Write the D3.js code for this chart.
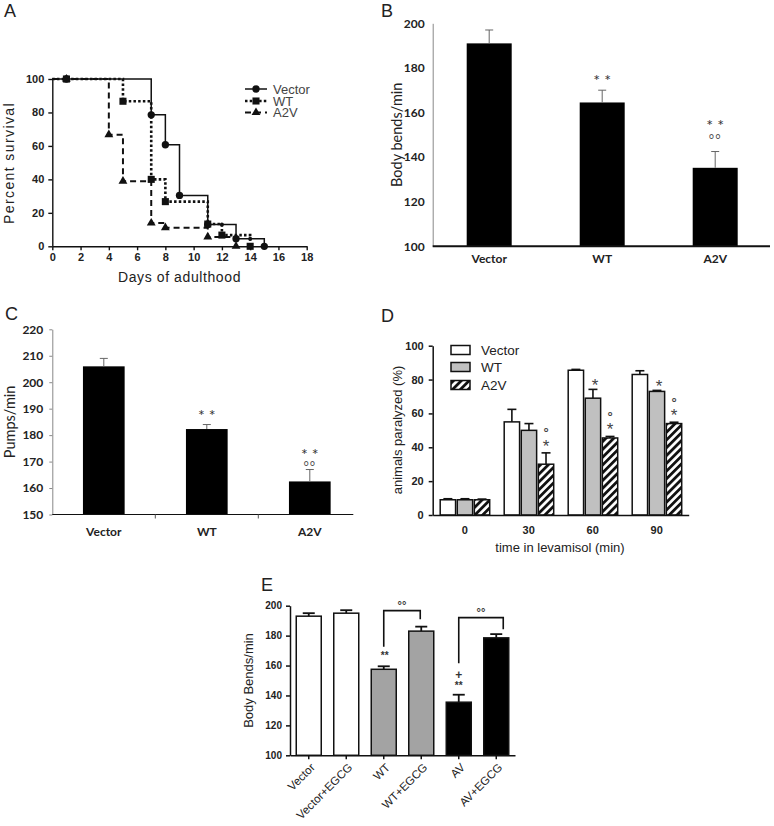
<!DOCTYPE html>
<html><head><meta charset="utf-8">
<script src="https://cdn.jsdelivr.net/npm/d3@7"></script>
<style>body{margin:0;background:#fff}</style>
</head><body><svg id="c" width="774" height="826"></svg>
<script>
// ---------------- DATA ----------------
// Panel A: survival
const survSeries = ["Vector","WT","A2V"];
const survDayTicks = [0,2,4,6,8,10,12,14,16,18];
const survPctTicks = [0,20,40,60,80,100];
const vectorSurvival = [[0,100],[7,78.6],[8,60.7],[9,30.4],[11,13.0],[13,4.5],[15,0]];
const wtSurvival = [[0,100],[5,86.7],[7,40.0],[8,26.7],[11,13.3],[12,6.7],[14,0]];
const a2vSurvival = [[0,100],[4,66.7],[5,38.9],[7,13.9],[8,11.1],[11,5.6],[13,0]];
const vectorCensored = [[12,13.0],[14,4.5]];
const startCensored = [[1,100]];

// Panel B: body bends
const bCategories = ["Vector","WT","A2V"];
const bBodyBends = [191,164.5,135.2];
const bSEM = [6,5.5,7.3];
const bStars = ["","* *","* *"];
const bRings = ["","","°°"];
const bTicks = [100,120,140,160,180,200];

// Panel C: pumps
const cCategories = ["Vector","WT","A2V"];
const cPumps = [206,182.3,162.5];
const cSEM = [3,1.7,4.5];
const cStars = ["","* *","* *"];
const cRings = ["","","°°"];
const cTicks = [150,160,170,180,190,200,210,220];

// Panel D: levamisol paralysis
const dTimes = ["0","30","60","90"];
const dSeries = ["Vector","WT","A2V"];
const dVector = [9,55,85.5,83];
const dWT = [9,50,69,73];
const dA2V = [9,30,45.5,54];
const dVectorSEM = [0.6,7.4,0.5,2.2];
const dWTSEM = [0.6,4,5.2,0.6];
const dA2VSEM = [0.4,6.7,0.9,0.8];
const dWTStars = ["","","*","*"];
const dA2VStars = ["","*","*","*"];
const dA2VRings = ["","°","°","°"];
const dTicks = [0,20,40,60,80,100];

// Panel E: EGCG
const eCategories = ["Vector","Vector+EGCG","WT","WT+EGCG","AV","AV+EGCG"];
const eBodyBends = [193,195,157.5,183,135.5,178.5];
const eSEM = [2,2,2,3,5,2.5];
const eTicks = [100,120,140,160,180,200];

// ---------------- DRAW ----------------
const svg = d3.select("#c");
svg.append("rect").attr("width",774).attr("height",826).attr("fill","#fff");
const ARIAL = "'Liberation Sans', Arial, sans-serif";
const CAL = "Lato, 'Open Sans', sans-serif";

function panelLabel(t,x,y){
  svg.append("text").attr("x",x).attr("y",y).text(t)
    .attr("font-family",ARIAL).attr("font-size",18).attr("fill","#222");
}
panelLabel("A",4,17); panelLabel("B",381,17); panelLabel("C",5,320); panelLabel("D",381,322); panelLabel("E",261,591);

// ===== Panel A =====
(function(){
  const x = d3.scaleLinear([0,18],[52.3,306.7]);
  const y = d3.scaleLinear([0,100],[246.3,79]);
  const g = svg.append("g");
  const ya = g.append("g").attr("transform",`translate(${x(0)},0)`)
    .call(d3.axisLeft(y).tickValues(survPctTicks).tickSize(4).tickSizeOuter(0).tickPadding(4));
  const xa = g.append("g").attr("transform",`translate(0,${y(0)})`)
    .call(d3.axisBottom(x).tickValues(survDayTicks).tickSize(4).tickSizeOuter(0).tickPadding(3));
  [ya,xa].forEach(a=>{
    a.selectAll("path,line").attr("stroke","#111").attr("stroke-width",1.4);
    a.selectAll("text").attr("font-family",ARIAL).attr("font-size",11).attr("font-weight","bold").attr("fill","#222");
  });
  g.append("text").attr("x",179.5).attr("y",282).attr("text-anchor","middle")
    .attr("font-family",ARIAL).attr("font-size",14).attr("letter-spacing",0.6).attr("fill","#222").text("Days of adulthood");
  g.append("text").attr("transform","translate(14,163) rotate(-90)").attr("text-anchor","middle")
    .attr("font-family",ARIAL).attr("font-size",14).attr("letter-spacing",1.4).attr("fill","#222").text("Percent survival");

  const line = d3.line().x(d=>x(d[0])).y(d=>y(d[1])).curve(d3.curveStepAfter);
  const styles = {
    "Vector":{data:vectorSurvival,dash:null,w:1.5,sym:d3.symbolCircle,size:42},
    "WT":{data:wtSurvival,dash:"2.5,2.2",w:2.6,sym:d3.symbolSquare,size:50},
    "A2V":{data:a2vSurvival,dash:"6,4",w:2,sym:d3.symbolTriangle,size:34}
  };
  ["Vector","A2V","WT"].forEach(k=>{
    const s = styles[k];
    g.append("path").attr("d",line(s.data)).attr("fill","none").attr("stroke","#111")
      .attr("stroke-width",s.w).attr("stroke-dasharray",s.dash);
  });
  ["Vector","A2V","WT"].forEach(k=>{
    const s = styles[k];
    const pts = startCensored.concat(s.data.slice(1));
    g.selectAll(null).data(pts).enter().append("path")
      .attr("d",d3.symbol().type(s.sym).size(s.size))
      .attr("transform",d=>`translate(${x(d[0])},${y(d[1])})`).attr("fill","#111");
  });
  g.selectAll(null).data(vectorCensored).enter().append("circle")
    .attr("cx",d=>x(d[0])).attr("cy",d=>y(d[1])).attr("r",2).attr("fill","#111");

  // legend
  const ly = [89,101,112.5];
  survSeries.forEach((k,i)=>{
    const s = styles[k];
    g.append("line").attr("x1",245).attr("x2",267).attr("y1",ly[i]).attr("y2",ly[i])
      .attr("stroke","#111").attr("stroke-width",s.w).attr("stroke-dasharray",s.dash);
    g.append("path").attr("d",d3.symbol().type(s.sym).size(s.size)).attr("transform",`translate(256,${ly[i]})`).attr("fill","#111");
    g.append("text").attr("x",273).attr("y",ly[i]).attr("dy","0.36em").attr("font-family",ARIAL)
      .attr("font-size",13).attr("fill","#444").text(k);
  });
})();

// ===== Excel style bar panels B and C =====
function excelPanel(o){
  const x = d3.scaleBand(o.cats,o.xr);
  const y = d3.scaleLinear(o.dom,o.yr);
  const g = svg.append("g");
  const bw = o.barW;
  o.vals.forEach((v,i)=>{
    const cx = x(o.cats[i])+x.bandwidth()/2;
    g.append("rect").attr("x",cx-bw/2).attr("width",bw).attr("y",y(v)).attr("height",y(o.dom[0])-y(v)).attr("fill","#000");
    const top = y(v+o.sem[i]);
    g.append("line").attr("x1",cx).attr("x2",cx).attr("y1",y(v)).attr("y2",top).attr("stroke","#666").attr("stroke-width",1);
    g.append("line").attr("x1",cx-4).attr("x2",cx+4).attr("y1",top).attr("y2",top).attr("stroke","#666").attr("stroke-width",1);
    const hasRing = !!o.rings[i];
    if(o.stars[i]) g.append("text").attr("x",cx).attr("y",top-(hasRing?o.starOffRing:o.starOff)).attr("text-anchor","middle")
      .attr("font-family",CAL).attr("font-size",16).attr("fill","#333").text(o.stars[i]);
    if(hasRing) g.append("text").attr("x",cx).attr("y",top-o.ringOff).attr("text-anchor","middle")
      .attr("font-family",CAL).attr("font-size",13).attr("fill","#555").attr("letter-spacing",1).text(o.rings[i]);
  });
  const ya = g.append("g").attr("transform",`translate(${o.xr[0]},0)`)
    .call(d3.axisLeft(y).tickValues(o.ticks).tickSize(o.tick).tickSizeOuter(0).tickPadding(o.pad));
  ya.selectAll("path,line").attr("stroke","#888");
  ya.selectAll("text").attr("font-family",CAL).attr("font-size",12).attr("font-weight","bold").attr("fill","#222");
  g.append("line").attr("x1",o.xr[0]).attr("x2",o.xEnd).attr("y1",y(o.dom[0])).attr("y2",y(o.dom[0]))
    .attr("stroke","#111").attr("stroke-width",o.xw);
  if(o.catTicks){
    o.cats.slice(1).forEach(c=>{
      g.append("line").attr("x1",x(c)).attr("x2",x(c)).attr("y1",y(o.dom[0])).attr("y2",y(o.dom[0])+4).attr("stroke","#555");
    });
  }
  o.cats.forEach(c=>{
    g.append("text").attr("x",x(c)+x.bandwidth()/2).attr("y",o.catY).attr("text-anchor","middle")
      .attr("font-family",CAL).attr("font-size",12).attr("font-weight","bold").attr("fill","#222").text(c);
  });
  g.append("text").attr("transform",`translate(${o.titleX},${(o.yr[0]+o.yr[1])/2}) rotate(-90)`).attr("text-anchor","middle")
    .attr("dy","0.35em").attr("font-family",CAL).attr("font-size",14.5).attr("fill","#222").text(o.title);
}
excelPanel({cats:bCategories,vals:bBodyBends,sem:bSEM,stars:bStars,rings:bRings,ticks:bTicks,
  xr:[432.7,771.7],dom:[100,200],yr:[246.3,23.3],barW:45,tick:0,pad:8,xEnd:770,xw:2,catTicks:false,
  catY:263,title:"Body bends/min",titleX:397,starOff:4.7,starOffRing:21,ringOff:7.6});
excelPanel({cats:cCategories,vals:cPumps,sem:cSEM,stars:cStars,rings:cRings,ticks:cTicks,
  xr:[52.3,361.3],dom:[150,220],yr:[514.5,329.3],barW:41.7,tick:3,pad:6,xEnd:353.3,xw:1.2,catTicks:true,
  catY:536,title:"Pumps/min",titleX:10,starOff:3.7,starOffRing:9.5,ringOff:-1});

// ===== Panel D =====
(function(){
  const x0 = d3.scaleBand(dTimes,[432.7,688.7]);
  const x1 = d3.scaleBand(dSeries,[7.5,57]).paddingInner(0.1);
  const y = d3.scaleLinear([0,100],[515,345.7]);
  const g = svg.append("g");
  const defs = svg.append("defs");
  const pat = defs.append("pattern").attr("id","hatch").attr("patternUnits","userSpaceOnUse")
    .attr("width",5.5).attr("height",5.5).attr("patternTransform","rotate(45)");
  pat.append("rect").attr("width",5.5).attr("height",5.5).attr("fill","#fff");
  pat.append("rect").attr("width",2.8).attr("height",5.5).attr("fill","#111");
  const fills = {"Vector":"#fff","WT":"#c0c0c0","A2V":"url(#hatch)"};
  const vals = {"Vector":dVector,"WT":dWT,"A2V":dA2V};
  const sems = {"Vector":dVectorSEM,"WT":dWTSEM,"A2V":dA2VSEM};
  dSeries.forEach(s=>{
    dTimes.forEach((t,i)=>{
      const bx = x0(t)+x1(s), v = vals[s][i], cx = bx+x1.bandwidth()/2;
      const top = y(v+sems[s][i]);
      g.append("line").attr("x1",cx).attr("x2",cx).attr("y1",y(v)).attr("y2",top).attr("stroke","#111").attr("stroke-width",1.6);
      g.append("line").attr("x1",cx-4.5).attr("x2",cx+4.5).attr("y1",top).attr("y2",top).attr("stroke","#111").attr("stroke-width",1.6);
      g.append("rect").attr("x",bx).attr("width",x1.bandwidth()).attr("y",y(v)).attr("height",y(0)-y(v))
        .attr("fill",fills[s]).attr("stroke","#111").attr("stroke-width",1.5);
    });
  });
  // annotations
  dTimes.forEach((t,i)=>{
    const wtx = x0(t)+x1("WT")+x1.bandwidth()/2+2;
    if(dWTStars[i]) g.append("text").attr("x",wtx).attr("y",y(dWT[i]+dWTSEM[i])+1.5).attr("text-anchor","middle")
      .attr("font-family",ARIAL).attr("font-size",17).attr("fill","#444").text(dWTStars[i]);
    const ax = x0(t)+x1("A2V")+x1.bandwidth()/2;
    const atop = y(dA2V[i]+dA2VSEM[i]);
    if(dA2VStars[i]) g.append("text").attr("x",ax).attr("y",atop-1).attr("text-anchor","middle")
      .attr("font-family",ARIAL).attr("font-size",17).attr("fill","#444").text(dA2VStars[i]);
    if(dA2VRings[i]) g.append("text").attr("x",ax).attr("y",atop-15.5).attr("text-anchor","middle")
      .attr("font-family",ARIAL).attr("font-size",13).attr("font-weight","bold").attr("fill","#444").text(dA2VRings[i]);
  });
  const ya = g.append("g").attr("transform",`translate(432.7,0)`)
    .call(d3.axisLeft(y).tickValues(dTicks).tickSize(4).tickSizeOuter(0).tickPadding(5));
  const xa = g.append("g").attr("transform",`translate(0,${y(0)})`)
    .call(d3.axisBottom(x0).tickSize(0).tickSizeOuter(0).tickPadding(11));
  [ya,xa].forEach(a=>{
    a.selectAll("path,line").attr("stroke","#111").attr("stroke-width",1.5);
    a.selectAll("text").attr("font-family",ARIAL).attr("font-size",11).attr("font-weight","bold").attr("fill","#222");
  });
  g.append("text").attr("x",560).attr("y",552).attr("text-anchor","middle")
    .attr("font-family",ARIAL).attr("font-size",13).attr("fill","#222").text("time in levamisol (min)");
  g.append("text").attr("transform","translate(397,430) rotate(-90)").attr("text-anchor","middle").attr("dy","0.35em")
    .attr("font-family",ARIAL).attr("font-size",13).attr("fill","#222").text("animals paralyzed (%)");
  const ly = [350,367,385];
  dSeries.forEach((s,i)=>{
    g.append("rect").attr("x",451).attr("y",ly[i]-4.5).attr("width",19).attr("height",9)
      .attr("fill",fills[s]).attr("stroke","#111").attr("stroke-width",1.5);
    g.append("text").attr("x",481).attr("y",ly[i]).attr("dy","0.36em").attr("font-family",ARIAL)
      .attr("font-size",13.5).attr("fill","#222").text(s);
  });
})();

// ===== Panel E =====
(function(){
  const x = d3.scaleBand(eCategories,[290,515]);
  const y = d3.scaleLinear([100,200],[755.3,605.7]);
  const g = svg.append("g");
  const fills = ["#fff","#fff","#a3a3a3","#a3a3a3","#000","#000"];
  const bw = 25;
  const cx = c=>x(c)+x.bandwidth()/2;
  eCategories.forEach((c,i)=>{
    const v = eBodyBends[i], top = y(v+eSEM[i]);
    g.append("line").attr("x1",cx(c)).attr("x2",cx(c)).attr("y1",y(v)).attr("y2",top).attr("stroke","#111").attr("stroke-width",1.8);
    g.append("line").attr("x1",cx(c)-6).attr("x2",cx(c)+6).attr("y1",top).attr("y2",top).attr("stroke","#111").attr("stroke-width",1.8);
    g.append("rect").attr("x",cx(c)-bw/2).attr("width",bw).attr("y",y(v)).attr("height",y(100)-y(v))
      .attr("fill",fills[i]).attr("stroke","#111").attr("stroke-width",1.5);
  });
  const ya = g.append("g").attr("transform",`translate(290,0)`)
    .call(d3.axisLeft(y).tickValues(eTicks).tickSize(4).tickSizeOuter(0).tickPadding(4));
  const xa = g.append("g").attr("transform",`translate(0,${y(100)})`)
    .call(d3.axisBottom(x).tickSize(4).tickSizeOuter(0).tickFormat(""));
  [ya,xa].forEach(a=>{
    a.selectAll("path,line").attr("stroke","#111").attr("stroke-width",1.5);
    a.selectAll("text").attr("font-family",ARIAL).attr("font-size",10).attr("font-weight","bold").attr("fill","#222");
  });
  eCategories.forEach(c=>{
    g.append("text").attr("transform",`translate(${cx(c)+4},${y(100)+10}) rotate(-45)`).attr("text-anchor","end")
      .attr("dy","0.35em").attr("font-family",ARIAL).attr("font-size",11.5).attr("fill","#222").text(c);
  });
  g.append("text").attr("transform",`translate(248,${(605.7+755.3)/2}) rotate(-90)`).attr("text-anchor","middle").attr("dy","0.35em")
    .attr("font-family",ARIAL).attr("font-size",13).attr("fill","#222").text("Body Bends/min");
  // brackets
  function bracket(a,b,off,top,lb,rb){
    const xa1 = cx(a), xb1 = cx(b)+off;
    g.append("path").attr("d",`M${xa1},${y(lb)}V${y(top)}H${xb1}V${y(rb)}`).attr("fill","none").attr("stroke","#111").attr("stroke-width",1.6);
    g.append("text").attr("x",(xa1+xb1)/2).attr("y",y(top)-2).attr("text-anchor","middle")
      .attr("font-family",ARIAL).attr("font-size",11).attr("font-weight","bold").attr("fill","#333").text("°°");
  }
  bracket("WT","WT+EGCG",-1,196.7,172.6,190.9);
  bracket("AV","AV+EGCG",7,192,161.5,184.2);
  g.append("text").attr("x",cx("WT")+1).attr("y",y(eBodyBends[2]+eSEM[2])-7).attr("text-anchor","middle")
    .attr("font-family",ARIAL).attr("font-size",10).attr("font-weight","bold").attr("fill","#333").text("**");
  g.append("text").attr("x",cx("AV")).attr("y",y(eBodyBends[4]+eSEM[4])-6).attr("text-anchor","middle")
    .attr("font-family",ARIAL).attr("font-size",10).attr("font-weight","bold").attr("fill","#333").text("**");
  g.append("text").attr("x",cx("AV")).attr("y",y(eBodyBends[4]+eSEM[4])-16).attr("text-anchor","middle")
    .attr("font-family",ARIAL).attr("font-size",12).attr("font-weight","bold").attr("fill","#333").text("+");
})();
</script></body></html>
